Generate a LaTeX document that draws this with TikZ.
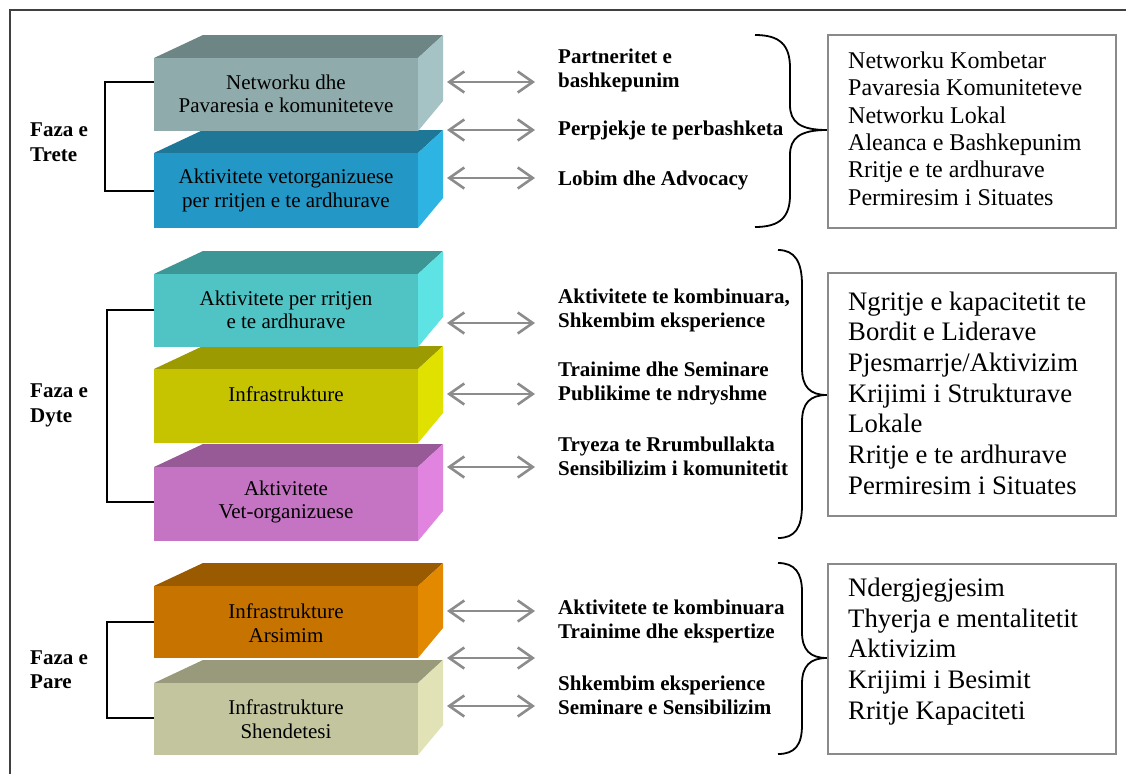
\documentclass[tikz,border=0pt]{standalone}
\usepackage{fontspec}
\setmainfont{Liberation Serif}
\usetikzlibrary{arrows.meta}
\definecolor{fA}{HTML}{8FABAC}\definecolor{tA}{HTML}{6E8586}\definecolor{sA}{HTML}{A5C3C5}
\definecolor{fB}{HTML}{2398C6}\definecolor{tB}{HTML}{1F7797}\definecolor{sB}{HTML}{2DB4E2}
\definecolor{fC}{HTML}{50C4C4}\definecolor{tC}{HTML}{3D9696}\definecolor{sC}{HTML}{5DE3E3}
\definecolor{fD}{HTML}{C6C400}\definecolor{tD}{HTML}{9B9A00}\definecolor{sD}{HTML}{E1E100}
\definecolor{fE}{HTML}{C474C2}\definecolor{tE}{HTML}{985A96}\definecolor{sE}{HTML}{E084DF}
\definecolor{fF}{HTML}{C67300}\definecolor{tF}{HTML}{9A5A00}\definecolor{sF}{HTML}{E38900}
\definecolor{fG}{HTML}{C3C59E}\definecolor{tG}{HTML}{999A7B}\definecolor{sG}{HTML}{E1E2B6}
\definecolor{framegray}{HTML}{404040}
\definecolor{boxgray}{HTML}{8A8A8A}
\definecolor{arrowgray}{HTML}{8C8C8C}
\newcommand\drawblock[6]{%
  \fill[#5] (154,#2) -- (203,#2-23) -- (443,#2-23) -- (418,#2) -- cycle;
  \fill[#6] (418,#2) -- (443,#2-23) -- (443,#3-30) -- (418,#3) -- cycle;
  \node[fill=#4, minimum width=264, minimum height=#3-#2, anchor=north west, inner sep=0pt, outer sep=0pt] (#1) at (154,#2) {};
}
\begin{document}
\begin{tikzpicture}[x=1pt,y=-1pt,
  blocktext/.style={font=\fontsize{21}{23.5}\selectfont, align=center, inner sep=0pt},
  midtext/.style={font=\fontsize{21}{24}\selectfont\bfseries, align=left, anchor=west, inner sep=0pt},
  fazatext/.style={font=\fontsize{21}{24.5}\selectfont\bfseries, align=left, anchor=west, inner sep=0pt},
  listbox/.style={draw=boxgray, line width=1.6pt, inner sep=0pt, anchor=north west},
  listsmall/.style={font=\fontsize{24}{27.4}\selectfont, align=left, anchor=west, inner sep=0pt},
  listbig/.style={font=\fontsize{26.7}{30.7}\selectfont, align=left, anchor=west, inner sep=0pt},
  garrow/.style={draw=arrowgray, line width=2.6pt, {Straight Barb[length=15pt,width=21pt]}-{Straight Barb[length=15pt,width=21pt]}},
  bracket/.style={draw=black, line width=1.8pt},
  brace/.style={draw=black, line width=1.8pt},
  framestyle/.style={draw=framegray, line width=1.5pt}
]
\useasboundingbox (0,0) rectangle (1126,774);
\fill[white] (0,0) rectangle (1126,774);
% outer frame
\coordinate (frBL) at (10,774);
\coordinate (frTL) at (10,10);
\coordinate (frTR) at (1126,10);
\draw[framestyle] (frBL) -- (frTL) -- (frTR);

% blocks (lower first)
\drawblock{b7}{683}{755}{fG}{tG}{sG}
\drawblock{b6}{586}{658}{fF}{tF}{sF}
\drawblock{b5}{467}{541}{fE}{tE}{sE}
\drawblock{b4}{369}{443}{fD}{tD}{sD}
\drawblock{b3}{274}{347}{fC}{tC}{sC}
\drawblock{b2}{153}{228}{fB}{tB}{sB}
\drawblock{b1}{58}{131}{fA}{tA}{sA}

\node[blocktext] (b1t) at (286,94) {Networku dhe\\Pavaresia e komuniteteve};
\node[blocktext] (b2t) at (286,190.5) {Aktivitete vetorganizuese\\per rritjen e te ardhurave};
\node[blocktext] (b3t) at (286,310) {Aktivitete per rritjen\\e te ardhurave};
\node[blocktext] (b4t) at (286,394) {Infrastrukture};
\node[blocktext] (b5t) at (286,502) {Aktivitete\\Vet-organizuese};
\node[blocktext] (b6t) at (286,623) {Infrastrukture\\Arsimim};
\node[blocktext] (b7t) at (286,719) {Infrastrukture\\Shendetesi};

% phase brackets
\coordinate (k1a) at (154,82);  \coordinate (k1b) at (154,191);
\coordinate (k2a) at (154,310); \coordinate (k2b) at (154,502);
\coordinate (k3a) at (154,622); \coordinate (k3b) at (154,718);
\draw[bracket] (k1a) -- (105,82) -- (105,191) -- (k1b);
\draw[bracket] (k2a) -- (107,310) -- (107,502) -- (k2b);
\draw[bracket] (k3a) -- (107,622) -- (107,718) -- (k3b);
\node[fazatext] (f1) at (30,142) {Faza e\\Trete};
\node[fazatext] (f2) at (30,405.5) {Faza e\\Dyte};
\node[fazatext] (f3) at (30,669.5) {Faza e\\Pare};

% arrows
\foreach \i/\yy in {1/82,2/130,3/178,4/323,5/394,6/467,7/611,8/658,9/706}{
  \coordinate (al\i) at (447,\yy);
  \coordinate (ar\i) at (535,\yy);
  \draw[garrow] (al\i) -- (ar\i);
}

% middle texts
\node[midtext] (m1) at (558,70) {Partneritet e\\bashkepunim};
\node[midtext] (m2) at (558,130) {Perpjekje te perbashketa};
\node[midtext] (m3) at (558,180) {Lobim dhe Advocacy};
\node[midtext] (m4) at (558,310) {Aktivitete te kombinuara,\\Shkembim eksperience};
\node[midtext] (m5) at (558,383.5) {Trainime dhe Seminare\\Publikime te ndryshme};
\node[midtext] (m6) at (558,456.5) {Tryeza te Rrumbullakta\\Sensibilizim i komunitetit};
\node[midtext] (m7) at (558,621.5) {Aktivitete te kombinuara\\Trainime dhe ekspertize};
\node[midtext] (m8) at (558,695) {Shkembim eksperience\\Seminare e Sensibilizim};

% braces
\coordinate (t1) at (827,130);
\coordinate (t2) at (827,395);
\coordinate (t3) at (827,658);
\draw[brace] (755,35) .. controls (780,35) and (790,45) .. (790,68) -- (790,105)
  .. controls (790,122) and (800,130) .. (t1)
  .. controls (800,130) and (790,138) .. (790,155) -- (790,195)
  .. controls (790,217) and (780,227) .. (755,227);
\draw[brace] (778,250) .. controls (795,250) and (802,262) .. (802,285) -- (802,368)
  .. controls (802,387) and (810,395) .. (t2)
  .. controls (810,395) and (802,403) .. (802,422) -- (802,505)
  .. controls (802,528) and (795,538) .. (778,538);
\draw[brace] (778,563) .. controls (795,563) and (802,573) .. (802,592) -- (802,632)
  .. controls (802,650) and (810,658) .. (t3)
  .. controls (810,658) and (802,666) .. (802,684) -- (802,725)
  .. controls (802,745) and (795,754) .. (778,754);

% result boxes
\node[listbox, minimum width=288, minimum height=193] (r1) at (827,34) {};
\node[listbox, minimum width=288, minimum height=243] (r2) at (827,272) {};
\node[listbox, minimum width=288, minimum height=190] (r3) at (827,563) {};
\node[listsmall] (r1t) at (848,128.5) {Networku Kombetar\\Pavaresia Komuniteteve\\Networku Lokal\\Aleanca e Bashkepunim\\Rritje e te ardhurave\\Permiresim i Situates};
\node[listbig] (r2t) at (848,393) {Ngritje e kapacitetit te\\Bordit e Liderave\\Pjesmarrje/Aktivizim\\Krijimi i Strukturave\\Lokale\\Rritje e te ardhurave\\Permiresim i Situates};
\node[listbig] (r3t) at (848,651.5) {Ndergjegjesim\\Thyerja e mentalitetit\\Aktivizim\\Krijimi i Besimit\\Rritje Kapaciteti};
\end{tikzpicture}
\end{document}
